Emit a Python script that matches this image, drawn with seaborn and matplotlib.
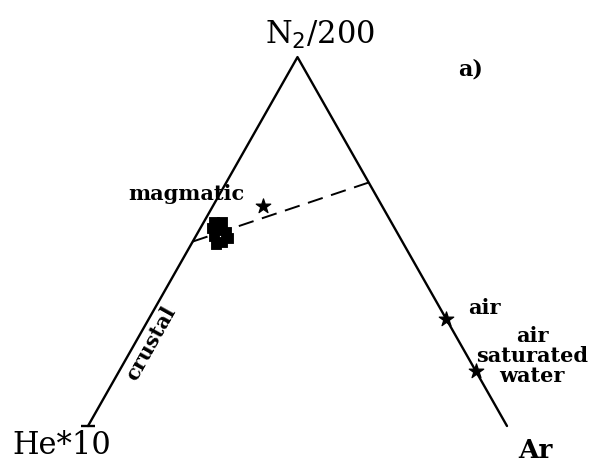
"""
Ternary N2/200 - He*10 - Ar diagram (panel a).
"""

import numpy as np
import pandas as pd
import matplotlib
matplotlib.use("Agg")
import matplotlib.pyplot as plt
import seaborn as sns

# ternary fractions (N2/200, Ar); He*10 is the remainder
frame_n2 = [0.0, 1.0, 0.0]
frame_ar = [0.0, 0.0, 1.0]

mixing_n2 = [0.50, 0.66]
mixing_ar = [0.00, 0.34]

magmatic_n2 = [0.553, 0.553, 0.537, 0.531, 0.526, 0.515, 0.510, 0.499, 0.493]
magmatic_ar = [0.024, 0.043, 0.027, 0.045, 0.066, 0.043, 0.079, 0.070, 0.059]

star_names = ["magmatic", "air", "air saturated water"]
star_n2 = [0.596, 0.29, 0.15]
star_ar = [0.120, 0.71, 0.85]


def to_xy(n2, ar):
    n2 = np.asarray(n2, dtype=float)
    ar = np.asarray(ar, dtype=float)
    return ar + n2 / 2.0, n2 * np.sqrt(3) / 2.0


def make_df(n2, ar):
    x, y = to_xy(n2, ar)
    return pd.DataFrame({"x": x, "y": y, "order": range(len(x))})


sns.set_style("white")
plt.rcParams["font.family"] = ["DejaVu Serif"]
plt.rcParams["text.color"] = "black"

fig = plt.figure(figsize=(5.99, 4.66), dpi=100)
ax = fig.add_axes([0, 0, 1, 1])

frame = make_df(frame_n2, frame_ar)
sns.lineplot(data=frame, x="x", y="y", sort=False, color="black",
             linewidth=1.7, ax=ax)
# small tick at the He end
ax.plot(frame["x"].iloc[0], frame["y"].iloc[0], marker="_", color="black",
        markersize=10, markeredgewidth=1.7)

mixing = make_df(mixing_n2, mixing_ar)
sns.lineplot(data=mixing, x="x", y="y", sort=False, color="black",
             linewidth=1.4, linestyle=(0, (8, 4.5)), ax=ax)

magmatic = make_df(magmatic_n2, magmatic_ar)
sns.scatterplot(data=magmatic, x="x", y="y", marker="s", s=60,
                color="black", edgecolor="black", ax=ax)

stars = make_df(star_n2, star_ar)
sns.scatterplot(data=stars, x="x", y="y", marker="*", s=120,
                color="black", edgecolor="black", ax=ax)

ax.set_xlim(-0.2100, 1.2196)
ax.set_ylim(-0.0939, 1.0)
ax.set_axis_off()

ax.text(0.554, 0.918, r"N$_2$/200", fontsize=22, ha="center", va="center")
ax.text(-0.062, -0.045, "He*10", fontsize=22, ha="center", va="center")
ax.text(1.067, -0.057, "Ar", fontsize=19, ha="center", va="center",
        fontweight="bold")
ax.text(0.912, 0.838, "a)", fontsize=16, ha="center", va="center",
        fontweight="bold")

lab = dict(fontsize=15, fontweight="bold", ha="center", va="center")
ax.text(0.234, 0.545, "magmatic", **lab)
ax.text(0.945, 0.276, "air", **lab)
ax.text(1.06, 0.165, "air\nsaturated\nwater", linespacing=1.0, **lab)
ax.text(0.150, 0.195, "crustal", rotation=60.8, rotation_mode="anchor", **lab)

fig.savefig("out.png", dpi=100)
